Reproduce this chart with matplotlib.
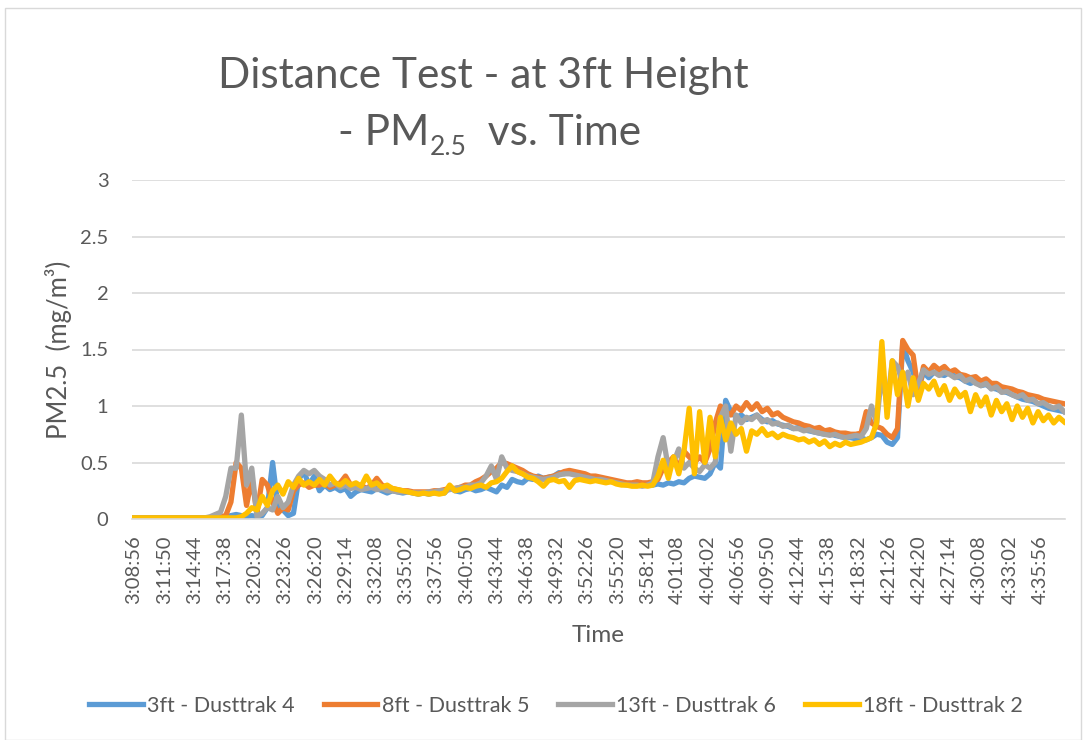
import numpy as np
import matplotlib
matplotlib.use("Agg")
import matplotlib.pyplot as plt
from matplotlib.patches import Rectangle
from matplotlib.transforms import ScaledTranslation

# Sample interval of the readings (seconds) and the first time stamp
start_label = "3:08:56"
step_s = 30

# Tick labels along the time axis
tick_labels = ["3:08:56", "3:11:50", "3:14:44", "3:17:38", "3:20:32", "3:23:26",
               "3:26:20", "3:29:14", "3:32:08", "3:35:02", "3:37:56", "3:40:50",
               "3:43:44", "3:46:38", "3:49:32", "3:52:26", "3:55:20", "3:58:14",
               "4:01:08", "4:04:02", "4:06:56", "4:09:50", "4:12:44", "4:15:38",
               "4:18:32", "4:21:26", "4:24:20", "4:27:14", "4:30:08", "4:33:02",
               "4:35:56"]

series_names = ["3ft - Dusttrak 4", "8ft - Dusttrak 5", "13ft - Dusttrak 6", "18ft - Dusttrak 2"]

# PM2.5 (mg/m3), one value every 30 s
dusttrak4 = [
    0.01, 0.01, 0.01, 0.01, 0.01, 0.01, 0.01, 0.01, 0.01, 0.01,
    0.01, 0.01, 0.01, 0.01, 0.01, 0.01, 0.01, 0.02, 0.02, 0.03,
    0.04, 0.03, 0.02, 0.03, 0.02, 0.03, 0.10, 0.50, 0.12, 0.08,
    0.03, 0.05, 0.35, 0.42, 0.30, 0.38, 0.25, 0.30, 0.26, 0.28,
    0.25, 0.27, 0.20, 0.24, 0.26, 0.25, 0.24, 0.27, 0.25, 0.23,
    0.25, 0.24, 0.23, 0.24, 0.23, 0.22, 0.23, 0.22, 0.23, 0.24,
    0.23, 0.28, 0.25, 0.24, 0.26, 0.27, 0.25, 0.26, 0.28, 0.26,
    0.24, 0.30, 0.28, 0.35, 0.33, 0.32, 0.36, 0.35, 0.38, 0.36,
    0.37, 0.38, 0.41, 0.40, 0.42, 0.40, 0.39, 0.38, 0.37, 0.36,
    0.36, 0.35, 0.34, 0.33, 0.32, 0.31, 0.31, 0.30, 0.31, 0.30,
    0.30, 0.31, 0.30, 0.32, 0.31, 0.33, 0.32, 0.36, 0.38, 0.37,
    0.36, 0.40, 0.50, 0.45, 1.05, 0.95, 0.90, 0.92, 0.88, 0.90,
    0.92, 0.88, 0.86, 0.87, 0.84, 0.83, 0.82, 0.80, 0.81, 0.79,
    0.78, 0.77, 0.76, 0.75, 0.76, 0.74, 0.73, 0.72, 0.72, 0.71,
    0.72, 0.70, 0.72, 0.75, 0.74, 0.68, 0.66, 0.72, 1.55, 1.40,
    1.30, 1.15, 1.30, 1.25, 1.30, 1.28, 1.27, 1.30, 1.26, 1.25,
    1.22, 1.20, 1.22, 1.18, 1.19, 1.16, 1.15, 1.13, 1.12, 1.10,
    1.08, 1.06, 1.05, 1.04, 1.02, 1.00, 0.98, 0.97, 0.96, 0.95]

dusttrak5 = [
    0.01, 0.01, 0.01, 0.01, 0.01, 0.01, 0.01, 0.01, 0.01, 0.01,
    0.01, 0.01, 0.01, 0.01, 0.01, 0.01, 0.02, 0.02, 0.03, 0.15,
    0.50, 0.45, 0.12, 0.36, 0.05, 0.35, 0.30, 0.15, 0.05, 0.10,
    0.08, 0.25, 0.30, 0.32, 0.28, 0.30, 0.30, 0.32, 0.28, 0.30,
    0.32, 0.38, 0.30, 0.28, 0.30, 0.27, 0.30, 0.36, 0.30, 0.28,
    0.27, 0.26, 0.25, 0.25, 0.24, 0.24, 0.24, 0.24, 0.25, 0.25,
    0.26, 0.27, 0.27, 0.28, 0.30, 0.30, 0.33, 0.35, 0.38, 0.42,
    0.45, 0.50, 0.49, 0.47, 0.45, 0.43, 0.40, 0.38, 0.37, 0.36,
    0.37, 0.38, 0.40, 0.42, 0.43, 0.42, 0.41, 0.40, 0.38, 0.38,
    0.37, 0.36, 0.35, 0.34, 0.33, 0.32, 0.32, 0.33, 0.32, 0.32,
    0.33, 0.35, 0.45, 0.50, 0.55, 0.45, 0.60, 0.55, 0.50, 0.55,
    0.50, 0.62, 0.85, 1.00, 0.95, 0.92, 1.00, 0.96, 1.03, 0.97,
    1.02, 0.95, 0.98, 0.92, 0.94, 0.90, 0.88, 0.86, 0.85, 0.83,
    0.82, 0.80, 0.81, 0.78, 0.79, 0.77, 0.76, 0.76, 0.75, 0.75,
    0.76, 0.95, 0.85, 0.82, 0.80, 0.75, 0.72, 0.80, 1.58, 1.50,
    1.45, 1.12, 1.35, 1.30, 1.36, 1.32, 1.35, 1.30, 1.32, 1.28,
    1.27, 1.25, 1.26, 1.22, 1.24, 1.20, 1.20, 1.17, 1.16, 1.15,
    1.13, 1.12, 1.10, 1.09, 1.08, 1.06, 1.05, 1.04, 1.03, 1.02]

dusttrak6 = [
    0.01, 0.01, 0.01, 0.01, 0.01, 0.01, 0.01, 0.01, 0.01, 0.01,
    0.01, 0.01, 0.01, 0.01, 0.01, 0.02, 0.04, 0.06, 0.20, 0.45,
    0.45, 0.92, 0.30, 0.45, 0.02, 0.05, 0.10, 0.08, 0.20, 0.10,
    0.15, 0.30, 0.38, 0.43, 0.40, 0.43, 0.38, 0.35, 0.30, 0.32,
    0.28, 0.30, 0.27, 0.28, 0.26, 0.27, 0.28, 0.26, 0.27, 0.25,
    0.25, 0.24, 0.24, 0.24, 0.23, 0.23, 0.23, 0.24, 0.24, 0.25,
    0.25, 0.26, 0.27, 0.28, 0.28, 0.30, 0.30, 0.32, 0.38, 0.47,
    0.35, 0.55, 0.45, 0.43, 0.42, 0.40, 0.38, 0.37, 0.36, 0.35,
    0.36, 0.37, 0.39, 0.40, 0.40, 0.39, 0.38, 0.37, 0.36, 0.35,
    0.35, 0.34, 0.33, 0.32, 0.31, 0.30, 0.30, 0.30, 0.29, 0.30,
    0.32, 0.55, 0.72, 0.45, 0.50, 0.62, 0.45, 0.50, 0.45, 0.42,
    0.48, 0.45, 0.50, 0.90, 1.00, 0.60, 0.92, 0.85, 0.90, 0.88,
    0.92, 0.86, 0.88, 0.84, 0.85, 0.82, 0.83, 0.80, 0.80, 0.78,
    0.79, 0.77, 0.76, 0.75, 0.74, 0.75, 0.73, 0.72, 0.73, 0.74,
    0.73, 0.80, 1.00, 0.85, 1.30, 1.00, 1.40, 1.35, 1.20, 1.30,
    1.10, 1.20, 1.32, 1.28, 1.30, 1.27, 1.30, 1.28, 1.25, 1.27,
    1.22, 1.24, 1.20, 1.18, 1.20, 1.15, 1.17, 1.12, 1.13, 1.10,
    1.08, 1.10, 1.05, 1.06, 1.02, 1.03, 1.00, 0.98, 1.00, 0.95]

dusttrak2 = [
    0.01, 0.01, 0.01, 0.01, 0.01, 0.01, 0.01, 0.01, 0.01, 0.01,
    0.01, 0.01, 0.01, 0.01, 0.01, 0.01, 0.01, 0.01, 0.01, 0.01,
    0.01, 0.02, 0.05, 0.10, 0.08, 0.20, 0.12, 0.25, 0.30, 0.22,
    0.33, 0.28, 0.36, 0.30, 0.33, 0.30, 0.35, 0.30, 0.38, 0.32,
    0.30, 0.34, 0.30, 0.32, 0.29, 0.38, 0.30, 0.32, 0.28, 0.30,
    0.27, 0.26, 0.25, 0.24, 0.23, 0.22, 0.23, 0.22, 0.23, 0.22,
    0.23, 0.30, 0.25, 0.26, 0.28, 0.27, 0.29, 0.30, 0.28, 0.32,
    0.33, 0.36, 0.42, 0.47, 0.42, 0.40, 0.37, 0.36, 0.33, 0.29,
    0.34, 0.35, 0.33, 0.34, 0.28, 0.34, 0.35, 0.34, 0.33, 0.34,
    0.33, 0.32, 0.33, 0.31, 0.30, 0.30, 0.29, 0.29, 0.30, 0.29,
    0.30, 0.38, 0.52, 0.36, 0.55, 0.40, 0.60, 0.98, 0.40, 0.95,
    0.50, 0.90, 0.55, 0.90, 0.70, 0.85, 0.75, 0.80, 0.60, 0.78,
    0.75, 0.80, 0.74, 0.76, 0.72, 0.75, 0.73, 0.72, 0.70, 0.71,
    0.68, 0.70, 0.66, 0.69, 0.64, 0.67, 0.65, 0.68, 0.66, 0.67,
    0.68, 0.70, 0.72, 0.85, 1.57, 0.90, 1.40, 1.10, 1.30, 1.00,
    1.25, 1.05, 1.20, 1.15, 1.22, 1.10, 1.18, 1.05, 1.15, 1.08,
    1.12, 0.95, 1.10, 1.00, 1.08, 0.92, 1.05, 0.95, 1.02, 0.88,
    1.00, 0.90, 0.98, 0.85, 0.95, 0.87, 0.92, 0.85, 0.90, 0.86]

colors = ["#5B9BD5", "#ED7D31", "#A5A5A5", "#FFC000"]
text_color = "#595959"
grid_color = "#D9D9D9"


def to_seconds(label):
    h, m, s = [int(p) for p in label.split(":")]
    return h * 3600 + m * 60 + s


t0 = to_seconds(start_label)
t = np.arange(len(dusttrak4)) * step_s
tick_pos = [to_seconds(lbl) - t0 for lbl in tick_labels]

plt.rcParams['font.family'] = ['Lato', 'DejaVu Sans']

fig = plt.figure(figsize=(10.87, 7.40), dpi=100)
W, H = 1087, 740

# light chart border
fig.patches.append(Rectangle((5 / W, 0), (1081 - 5) / W, 1 - 8 / H, transform=fig.transFigure,
                             fill=False, edgecolor=grid_color, linewidth=1.0))

ax = fig.add_axes([132 / W, 1 - 519 / H, (1065 - 132) / W, (519 - 180) / H])

for vals, name, c in zip([dusttrak4, dusttrak5, dusttrak6, dusttrak2], series_names, colors):
    ax.plot(t, vals, color=c, linewidth=3.8, label=name, solid_joinstyle='round')

ax.set_xlim(0, t[-1] + 5)
ax.set_ylim(0, 3)
ax.set_yticks([0, 0.5, 1, 1.5, 2, 2.5, 3])
ax.set_yticklabels(["0", "0.5", "1", "1.5", "2", "2.5", "3"])
ax.set_xticks(tick_pos)
ax.set_xticklabels(tick_labels, rotation=90)
ax.tick_params(axis='both', length=0, colors=text_color, labelsize=14.5)
ax.tick_params(axis='x', pad=12)
ax.tick_params(axis='y', pad=17)
shift = ScaledTranslation(2 / 100, 0, fig.dpi_scale_trans)
for lbl in ax.get_xticklabels():
    lbl.set_transform(lbl.get_transform() + shift)
ax.grid(axis='y', color=grid_color, linewidth=1.2)
ax.set_axisbelow(True)
for side in ['top', 'right', 'left']:
    ax.spines[side].set_visible(False)
ax.spines['bottom'].set_color(grid_color)
ax.spines['bottom'].set_linewidth(1.2)

# titles
fig.text(483 / W, 1 - 88 / H, "Distance Test - at 3ft Height", ha='center', va='baseline',
         fontsize=30.5, color=text_color)

# second title line built from pieces so the subscript can sit low like the original
renderer = fig.canvas.get_renderer()
x_px = 338
for piece, size, drop in [("- PM", 30.5, 0), ("2.5", 19, 10), ("  vs. Time", 30.5, 0)]:
    txt = fig.text(x_px / W, 1 - (145 + drop) / H, piece, ha='left', va='baseline',
                   fontsize=size, color=text_color)
    x_px = txt.get_window_extent(renderer).x1

fig.text(598 / W, 1 - 635 / H, "Time", ha='center', va='center', fontsize=17.5, color=text_color)
fig.text(58 / W, 1 - 350 / H, "PM2.5  (mg/m³)", ha='center', va='center', rotation=90,
         fontsize=18.5, color=text_color)

fig.legend(loc='center', bbox_to_anchor=(556 / W, 1 - 706 / H), ncol=4, frameon=False,
           fontsize=15.5, labelcolor=text_color, handlelength=2.5, handletextpad=0.2,
           columnspacing=1.35)

fig.savefig("out.png", dpi=100)
